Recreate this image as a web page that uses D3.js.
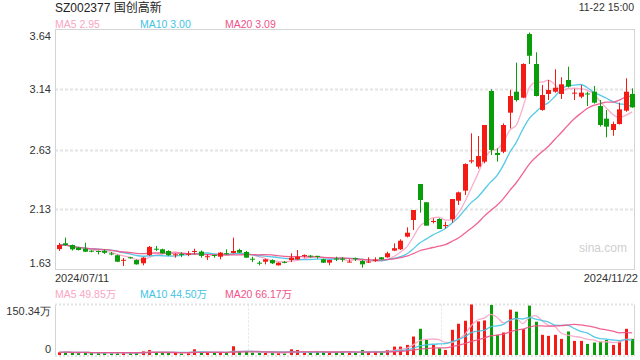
<!DOCTYPE html>
<html><head><meta charset="utf-8">
<script src="https://cdn.jsdelivr.net/npm/d3@7/dist/d3.min.js"></script>
<style>body{margin:0;background:#fff}svg{display:block;font-family:"Liberation Sans",Arial,"Noto Sans CJK SC",sans-serif}</style>
</head><body><svg id="c" width="640" height="360"></svg>
<script>
// ---- data ----
const dates = [
"2024/07/11","2024/07/12","2024/07/15","2024/07/16","2024/07/17","2024/07/18","2024/07/19","2024/07/22","2024/07/23","2024/07/24","2024/07/25","2024/07/26","2024/07/29","2024/07/30","2024/07/31",
"2024/08/01","2024/08/02","2024/08/05","2024/08/06","2024/08/07","2024/08/08","2024/08/09","2024/08/12","2024/08/13","2024/08/14","2024/08/15","2024/08/16","2024/08/19","2024/08/20","2024/08/21","2024/08/22","2024/08/23","2024/08/26","2024/08/27","2024/08/28","2024/08/29","2024/08/30",
"2024/09/02","2024/09/03","2024/09/04","2024/09/05","2024/09/06","2024/09/09","2024/09/10","2024/09/11","2024/09/12","2024/09/13","2024/09/18","2024/09/19","2024/09/20","2024/09/23","2024/09/24","2024/09/25","2024/09/26","2024/09/27","2024/09/30",
"2024/10/08","2024/10/09","2024/10/10","2024/10/11","2024/10/14","2024/10/15","2024/10/16","2024/10/17","2024/10/18","2024/10/21","2024/10/22","2024/10/23","2024/10/24","2024/10/25","2024/10/28","2024/10/29","2024/10/30","2024/10/31",
"2024/11/01","2024/11/04","2024/11/05","2024/11/06","2024/11/07","2024/11/08","2024/11/11","2024/11/12","2024/11/13","2024/11/14","2024/11/15","2024/11/18","2024/11/19","2024/11/20","2024/11/21","2024/11/22"];
const open  = [1.797,1.845,1.831,1.809,1.800,1.783,1.781,1.783,1.760,1.745,1.703,1.728,1.705,1.678,1.747,1.800,1.795,1.781,1.749,1.755,1.756,1.776,1.776,1.733,1.747,1.733,1.762,1.764,1.789,1.773,1.716,1.683,1.691,1.705,1.661,1.690,1.705,1.711,1.742,1.742,1.740,1.711,1.683,1.718,1.716,1.688,1.720,1.697,1.689,1.703,1.728,1.728,1.784,1.795,1.901,2.040,2.342,2.189,2.026,2.049,1.993,2.046,2.202,2.286,2.530,2.487,2.529,3.121,2.602,2.612,2.939,3.115,3.065,3.598,3.347,2.962,3.096,3.115,3.096,3.213,3.100,3.073,3.100,3.115,2.995,2.889,2.794,2.844,2.956,3.096];
const close = [1.831,1.831,1.795,1.789,1.775,1.775,1.778,1.766,1.757,1.691,1.707,1.725,1.669,1.725,1.815,1.795,1.761,1.745,1.753,1.753,1.758,1.781,1.740,1.737,1.744,1.767,1.757,1.781,1.767,1.725,1.712,1.680,1.711,1.678,1.683,1.688,1.725,1.733,1.747,1.740,1.735,1.683,1.705,1.714,1.714,1.692,1.716,1.669,1.692,1.707,1.711,1.762,1.804,1.867,1.934,2.124,2.208,1.993,2.032,1.965,1.998,2.216,2.272,2.509,2.540,2.576,2.836,2.627,2.585,2.836,3.079,3.045,3.347,3.416,3.079,3.087,3.129,3.148,3.177,3.157,3.107,3.107,3.096,3.023,2.836,2.822,2.844,2.967,3.115,2.984];
const high  = [1.848,1.892,1.835,1.815,1.850,1.787,1.785,1.795,1.773,1.750,1.722,1.732,1.710,1.730,1.823,1.823,1.800,1.787,1.761,1.770,1.781,1.800,1.785,1.752,1.752,1.773,1.795,1.892,1.800,1.781,1.733,1.697,1.716,1.711,1.686,1.697,1.761,1.789,1.752,1.747,1.740,1.716,1.707,1.733,1.730,1.711,1.725,1.705,1.728,1.728,1.730,1.775,1.845,1.879,1.979,2.124,2.342,2.189,2.055,2.055,2.026,2.216,2.278,2.515,2.766,2.744,2.836,3.135,2.641,2.850,3.130,3.358,3.353,3.610,3.445,3.171,3.213,3.302,3.236,3.324,3.140,3.171,3.115,3.163,3.045,2.962,2.864,3.023,3.227,3.143];
const low   = [1.781,1.823,1.785,1.785,1.772,1.770,1.752,1.756,1.745,1.688,1.655,1.717,1.667,1.661,1.740,1.781,1.758,1.740,1.725,1.730,1.737,1.752,1.725,1.705,1.725,1.711,1.752,1.760,1.764,1.723,1.688,1.661,1.669,1.672,1.659,1.678,1.688,1.705,1.725,1.725,1.717,1.680,1.661,1.697,1.690,1.686,1.697,1.641,1.680,1.690,1.707,1.724,1.780,1.790,1.895,1.957,2.102,1.993,2.012,1.965,1.970,2.018,2.166,2.250,2.515,2.470,2.515,2.585,2.529,2.600,2.808,3.031,3.060,3.347,3.075,2.955,3.045,3.107,3.054,3.150,3.045,3.060,2.995,3.015,2.822,2.733,2.746,2.840,2.947,2.980];
// volume in 万 (10k shares)
const volume = [8,9,7,6,8,6,6,6,5,7,8,5,6,11,15,8,7,6,6,5,7,17,9,7,6,8,7,26,9,9,7,6,7,6,6,5,17,15,7,6,8,
  10,7,7,7,10,7,15,10,10,7,15,25,25,30,55,78,45,30,20,15,75,93,102,150.34,100,103,149,60,67,135,129,77,147,99,60,57,60,48,70,42,42,33,37,40,45,30,40,78,48];
const priceTicks = [3.64,3.14,2.63,2.13,1.63];
const gridTicks = [3.14,2.63,2.13];
const volTicks = [0,150.34];
const maNames = ["MA5","MA10","MA20"];
const maPeriods = [5,10,20];
const maPriceLegend = [2.95,3.00,3.09];
const maVolLegend = [49.85,44.50,66.17];
const title = "SZ002377 国创高新";
const timeLabel = "11-22 15:00";
const maColors = ["#f9a5c5","#43c4e4","#ef5289"];

// ---- layout ----
const L=55,R=634,T=29,B=269, VT=304.5, VB=355;
const RED="#f31b14", GREEN="#0a9d0a", GRID="#e3e3e3", FRAME="#d4d4d4";
const svg=d3.select("#c");
const idx=d3.range(dates.length);
const x=d3.scalePoint().domain(idx).range([59,632.2]);
const y=d3.scaleLinear().domain([1.63,3.64]).range([B,T]);
const yv=d3.scaleLinear().domain([0,150.34]).range([VB,VT]);

function ma(arr,n){return arr.map((v,i)=>d3.mean(arr.slice(Math.max(0,i-n+1),i+1)));}

// header
svg.append("text").attr("x",55).attr("y",12).attr("font-size",12).attr("fill","#222").text(title);
svg.append("text").attr("x",634).attr("y",11).attr("text-anchor","end").attr("font-size",10.5).attr("fill","#333").text(timeLabel);

// legends
const legX=[55,140,225];
maNames.forEach((nm,k)=>{
  svg.append("text").attr("x",legX[k]).attr("y",27.5).attr("font-size",10.5).attr("fill",maColors[k]).text(nm+" "+maPriceLegend[k].toFixed(2));
  svg.append("text").attr("x",legX[k]).attr("y",298).attr("font-size",10.5).attr("fill",maColors[k]).text(nm+" "+maVolLegend[k].toFixed(2)+"万");
});

// grid
svg.append("g").selectAll("line").data(gridTicks).join("line")
  .attr("x1",L).attr("x2",R).attr("y1",d=>Math.round(y(d))+0.5).attr("y2",d=>Math.round(y(d))+0.5)
  .attr("stroke",GRID).attr("stroke-width",2).attr("stroke-dasharray","3,2");
// frame
svg.append("rect").attr("x",L+0.5).attr("y",T+0.5).attr("width",R-L).attr("height",B-T).attr("fill","none").attr("stroke",FRAME);

// watermark
svg.append("text").attr("x",627).attr("y",252).attr("text-anchor","end").attr("font-size",12).attr("fill","#cfcfcf").text("sina.com");

// y axis
const ya=svg.append("g").attr("transform",`translate(${L},0)`).call(d3.axisLeft(y).tickValues(priceTicks).tickSize(0).tickPadding(4).tickFormat(d3.format(".2f")));
ya.select(".domain").remove();
ya.selectAll("text").attr("font-size",11).attr("fill","#333").attr("font-family","Liberation Sans, Arial, sans-serif")
  .attr("dy",(d,i)=> i===0?"0.95em":(i===priceTicks.length-1?"-0.2em":"0.32em"));

// MA lines (price)
maPeriods.forEach((n,k)=>{
  svg.append("path").datum(ma(close,n)).attr("fill","none").attr("stroke",maColors[k]).attr("stroke-width",1.3).attr("stroke-opacity",0.9)
    .attr("d",d3.line().x((d,i)=>x(i)).y(d=>y(d)).curve(d3.curveMonotoneX));
});

// candles
const cg=svg.append("g");
idx.forEach(i=>{
  const cx=Math.round(x(i));
  const col=close[i]>=open[i]?RED:GREEN;
  cg.append("line").attr("x1",cx+0.5).attr("x2",cx+0.5).attr("y1",y(high[i])).attr("y2",y(low[i])).attr("stroke",col).attr("stroke-width",1);
  const top=y(Math.max(open[i],close[i])), bot=y(Math.min(open[i],close[i]));
  cg.append("rect").attr("x",cx-2).attr("width",5).attr("y",top).attr("height",Math.max(1,bot-top)).attr("fill",col);
});

// date labels
svg.append("text").attr("x",55).attr("y",282).attr("font-size",11).attr("fill","#333").text(dates[0]);
svg.append("text").attr("x",638).attr("y",282).attr("text-anchor","end").attr("font-size",11).attr("fill","#333").text(dates[dates.length-1]);

// volume panel frame
const vf=svg.append("g");
vf.append("line").attr("x1",L+0.5).attr("x2",L+0.5).attr("y1",VT).attr("y2",VB+1).attr("stroke",FRAME);
vf.append("line").attr("x1",R+0.5).attr("x2",R+0.5).attr("y1",VT).attr("y2",VB+1).attr("stroke",FRAME);
[VT,VB+1].forEach(yy=>vf.append("line").attr("x1",L).attr("x2",R).attr("y1",yy).attr("y2",yy).attr("stroke",GRID).attr("stroke-width",2).attr("stroke-dasharray","2,2"));
[L+(R-L)/3,L+2*(R-L)/3].forEach(xx=>vf.append("line").attr("x1",Math.round(xx)+0.5).attr("x2",Math.round(xx)+0.5).attr("y1",VT).attr("y2",VB).attr("stroke",GRID).attr("stroke-width",1).attr("stroke-dasharray","2,2"));

// volume axis
const va=svg.append("g").attr("transform",`translate(${L},0)`).call(d3.axisLeft(yv).tickValues(volTicks).tickSize(0).tickPadding(4).tickFormat(d=>d===0?"0":d3.format(".2f")(d)+"万"));
va.select(".domain").remove();
va.selectAll("text").attr("font-size",11).attr("fill","#333").attr("dy",d=>d===0?"-0.25em":"0.95em");

// volume bars
svg.append("g").selectAll("rect").data(idx).join("rect")
  .attr("x",i=>Math.round(x(i))-1).attr("width",3)
  .attr("y",i=>yv(volume[i])).attr("height",i=>Math.max(1,VB-yv(volume[i])))
  .attr("fill",i=>close[i]>=open[i]?RED:GREEN);

// volume MA lines
maPeriods.forEach((n,k)=>{
  svg.append("path").datum(ma(volume,n)).attr("fill","none").attr("stroke",maColors[k]).attr("stroke-width",1.3).attr("stroke-opacity",0.9)
    .attr("d",d3.line().x((d,i)=>x(i)).y(d=>yv(d)).curve(d3.curveMonotoneX));
});
</script></body></html>
